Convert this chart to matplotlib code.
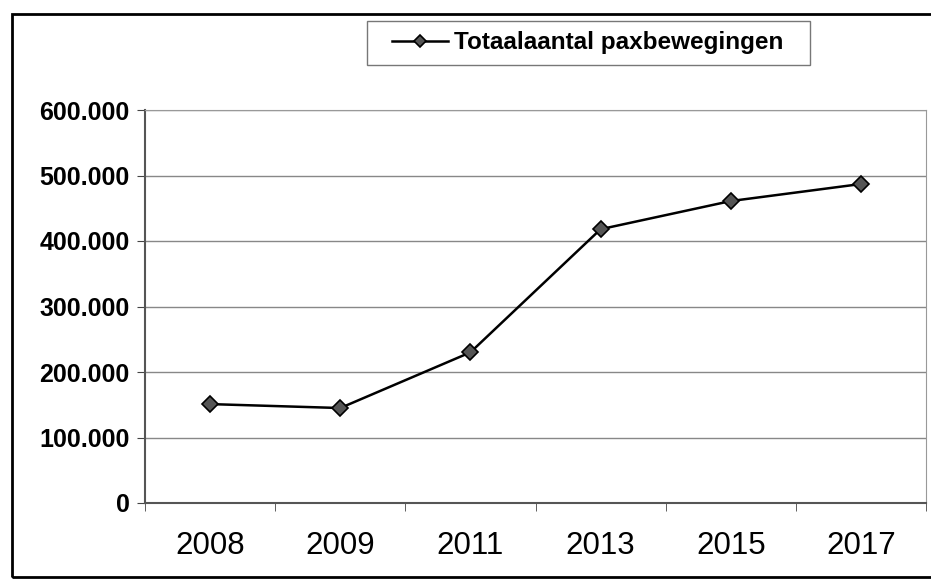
import matplotlib.pyplot as plt
from matplotlib.ticker import FuncFormatter, FixedLocator
from matplotlib.patches import Rectangle

years = ["2008", "2009", "2011", "2013", "2015", "2017"]
pax = [151000, 145000, 230000, 418000, 461000, 487000]

plt.rcParams["font.family"] = ["Liberation Sans", "DejaVu Sans"]

fig = plt.figure(figsize=(9.31, 5.80), dpi=100)
ax = fig.add_axes([145 / 931, 77 / 580, 781 / 931, 393 / 580])

x = list(range(len(years)))
ax.plot(x, pax, color="black", lw=1.8, marker="D", markersize=8.5,
        markerfacecolor="#555555", markeredgecolor="black", markeredgewidth=1.2,
        label="Totaalaantal paxbewegingen")

ax.set_xlim(-0.5, len(years) - 0.5)
ax.set_ylim(0, 600000)
ax.set_yticks(range(0, 600001, 100000))
ax.yaxis.set_major_formatter(FuncFormatter(lambda v, p: "0" if v == 0 else f"{int(v):,}".replace(",", ".")))
ax.set_xticks(x)
ax.set_xticklabels(years)
ax.xaxis.set_minor_locator(FixedLocator([i + 0.5 for i in range(-1, len(years))]))
ax.tick_params(axis="x", which="major", length=0, pad=20, labelsize=22.5)
ax.tick_params(axis="x", which="minor", length=6, color="#444444", direction="out")
ax.tick_params(axis="y", length=6, color="#444444", labelsize=18, pad=5)
for lbl in ax.get_yticklabels():
    lbl.set_fontweight("bold")

ax.grid(axis="y", color="#888888", lw=1)
ax.set_axisbelow(True)
for s in ["top", "right"]:
    ax.spines[s].set_color("#999999")
for s in ["left", "bottom"]:
    ax.spines[s].set_color("#555555")
    ax.spines[s].set_linewidth(1.5)

# legend text without frame, box drawn separately
fig.legend(loc="center left", bbox_to_anchor=(392 / 931, 1 - 43 / 580), frameon=False,
           prop={"weight": "bold", "size": 17.5}, borderpad=0, borderaxespad=0,
           handlelength=2.3, handletextpad=0.25, markerscale=0.75)
fig.patches.append(Rectangle((367 / 931, 1 - 65 / 580), 443 / 931, 44 / 580, transform=fig.transFigure,
                             fill=False, edgecolor="#777777", lw=1))

fig.patches.append(Rectangle((12 / 931, 3 / 580), 1.2, 1 - 17 / 580, transform=fig.transFigure,
                             fill=False, edgecolor="black", lw=2, zorder=-1))

fig.savefig("out.png", dpi=100)
